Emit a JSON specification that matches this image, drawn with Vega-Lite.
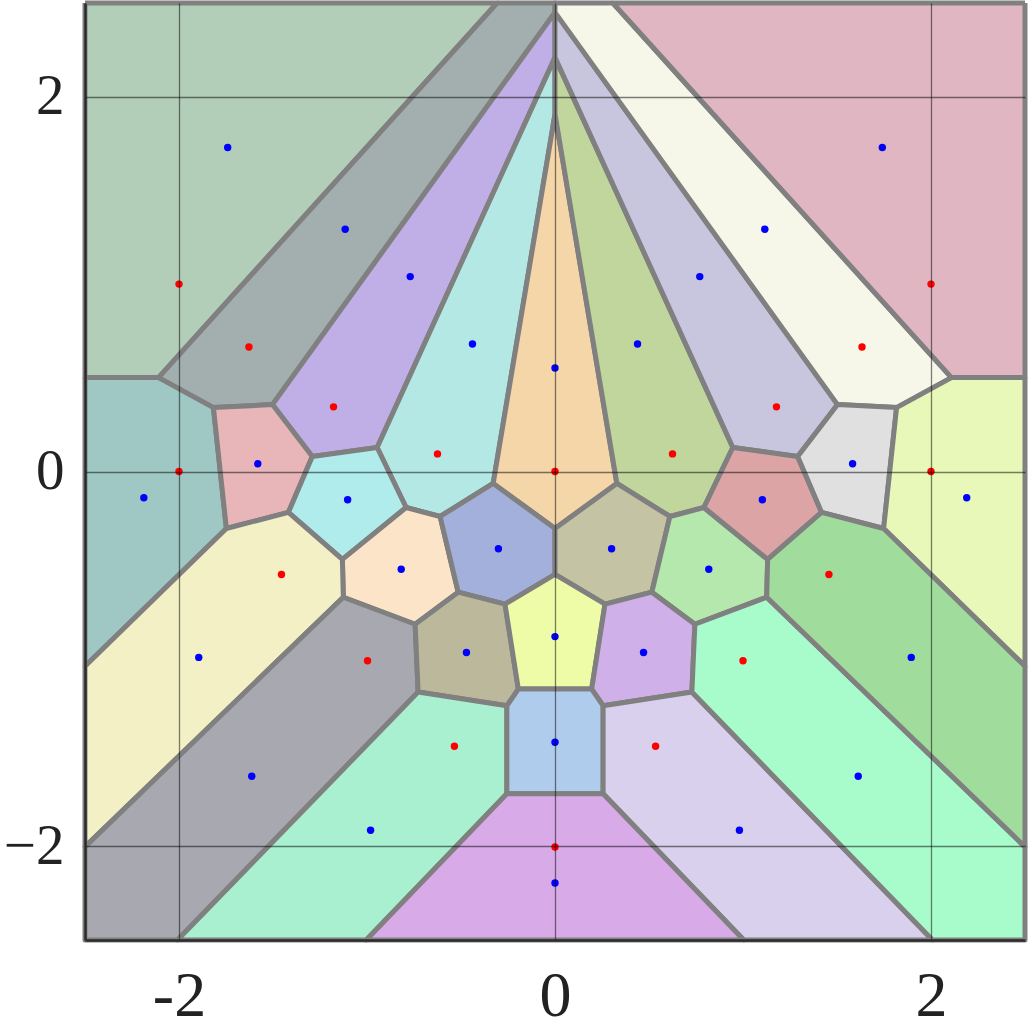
{
  "$schema": "https://vega.github.io/schema/vega-lite/v6.json",
  "width": 940,
  "height": 937,
  "autosize": {"type": "none"},
  "padding": {"left": 85, "top": 3, "right": 3, "bottom": 91},
  "background": "white",
  "config": {"view": {"stroke": null}},
  "datasets": {
    "cells": [
      {"c":"c1","i":0,"x":-2.5,"y":2.5},{"c":"c1","i":1,"x":-0.308,"y":2.5},{"c":"c1","i":2,"x":-2.109,"y":0.501},{"c":"c1","i":3,"x":-2.5,"y":0.501},{"c":"c1","i":4,"x":-2.5,"y":2.5},
      {"c":"c2","i":0,"x":-0.308,"y":2.5},{"c":"c2","i":1,"x":0,"y":2.5},{"c":"c2","i":2,"x":0,"y":2.45},{"c":"c2","i":3,"x":-1.503,"y":0.357},{"c":"c2","i":4,"x":-1.817,"y":0.341},{"c":"c2","i":5,"x":-2.109,"y":0.501},{"c":"c2","i":6,"x":-0.308,"y":2.5},
      {"c":"c3","i":0,"x":0,"y":2.45},{"c":"c3","i":1,"x":0,"y":2.21},{"c":"c3","i":2,"x":-0.946,"y":0.128},{"c":"c3","i":3,"x":-1.291,"y":0.08},{"c":"c3","i":4,"x":-1.503,"y":0.357},{"c":"c3","i":5,"x":0,"y":2.45},
      {"c":"c4","i":0,"x":0,"y":2.21},{"c":"c4","i":1,"x":0,"y":1.907},{"c":"c4","i":2,"x":-0.329,"y":-0.064},{"c":"c4","i":3,"x":-0.611,"y":-0.24},{"c":"c4","i":4,"x":-0.792,"y":-0.192},{"c":"c4","i":5,"x":-0.946,"y":0.128},{"c":"c4","i":6,"x":0,"y":2.21},
      {"c":"c5","i":0,"x":0,"y":1.907},{"c":"c5","i":1,"x":0.329,"y":-0.064},{"c":"c5","i":2,"x":0,"y":-0.304},{"c":"c5","i":3,"x":-0.329,"y":-0.064},{"c":"c5","i":4,"x":0,"y":1.907},
      {"c":"c6","i":0,"x":0,"y":2.21},{"c":"c6","i":1,"x":0,"y":1.907},{"c":"c6","i":2,"x":0.329,"y":-0.064},{"c":"c6","i":3,"x":0.611,"y":-0.24},{"c":"c6","i":4,"x":0.792,"y":-0.192},{"c":"c6","i":5,"x":0.946,"y":0.128},{"c":"c6","i":6,"x":0,"y":2.21},
      {"c":"c7","i":0,"x":0,"y":2.45},{"c":"c7","i":1,"x":0,"y":2.21},{"c":"c7","i":2,"x":0.946,"y":0.128},{"c":"c7","i":3,"x":1.291,"y":0.08},{"c":"c7","i":4,"x":1.503,"y":0.357},{"c":"c7","i":5,"x":0,"y":2.45},
      {"c":"c8","i":0,"x":0.308,"y":2.5},{"c":"c8","i":1,"x":0,"y":2.5},{"c":"c8","i":2,"x":0,"y":2.45},{"c":"c8","i":3,"x":1.503,"y":0.357},{"c":"c8","i":4,"x":1.817,"y":0.341},{"c":"c8","i":5,"x":2.109,"y":0.501},{"c":"c8","i":6,"x":0.308,"y":2.5},
      {"c":"c9","i":0,"x":2.5,"y":2.5},{"c":"c9","i":1,"x":0.308,"y":2.5},{"c":"c9","i":2,"x":2.109,"y":0.501},{"c":"c9","i":3,"x":2.5,"y":0.501},{"c":"c9","i":4,"x":2.5,"y":2.5},
      {"c":"c10","i":0,"x":-2.5,"y":0.501},{"c":"c10","i":1,"x":-2.109,"y":0.501},{"c":"c10","i":2,"x":-1.817,"y":0.341},{"c":"c10","i":3,"x":-1.748,"y":-0.304},{"c":"c10","i":4,"x":-2.5,"y":-1.039},{"c":"c10","i":5,"x":-2.5,"y":0.501},
      {"c":"c11","i":0,"x":-1.817,"y":0.341},{"c":"c11","i":1,"x":-1.503,"y":0.357},{"c":"c11","i":2,"x":-1.291,"y":0.08},{"c":"c11","i":3,"x":-1.418,"y":-0.218},{"c":"c11","i":4,"x":-1.748,"y":-0.304},{"c":"c11","i":5,"x":-1.817,"y":0.341},
      {"c":"c12","i":0,"x":-1.291,"y":0.08},{"c":"c12","i":1,"x":-0.946,"y":0.128},{"c":"c12","i":2,"x":-0.792,"y":-0.192},{"c":"c12","i":3,"x":-1.131,"y":-0.469},{"c":"c12","i":4,"x":-1.418,"y":-0.218},{"c":"c12","i":5,"x":-1.291,"y":0.08},
      {"c":"c13","i":0,"x":-0.792,"y":-0.192},{"c":"c13","i":1,"x":-0.611,"y":-0.24},{"c":"c13","i":2,"x":-0.515,"y":-0.644},{"c":"c13","i":3,"x":-0.744,"y":-0.815},{"c":"c13","i":4,"x":-1.126,"y":-0.671},{"c":"c13","i":5,"x":-1.131,"y":-0.469},{"c":"c13","i":6,"x":-0.792,"y":-0.192},
      {"c":"c14","i":0,"x":-0.329,"y":-0.064},{"c":"c14","i":1,"x":0,"y":-0.304},{"c":"c14","i":2,"x":0,"y":-0.549},{"c":"c14","i":3,"x":-0.266,"y":-0.708},{"c":"c14","i":4,"x":-0.515,"y":-0.644},{"c":"c14","i":5,"x":-0.611,"y":-0.24},{"c":"c14","i":6,"x":-0.329,"y":-0.064},
      {"c":"c15","i":0,"x":0.329,"y":-0.064},{"c":"c15","i":1,"x":0,"y":-0.304},{"c":"c15","i":2,"x":0,"y":-0.549},{"c":"c15","i":3,"x":0.266,"y":-0.708},{"c":"c15","i":4,"x":0.515,"y":-0.644},{"c":"c15","i":5,"x":0.611,"y":-0.24},{"c":"c15","i":6,"x":0.329,"y":-0.064},
      {"c":"c16","i":0,"x":0.792,"y":-0.192},{"c":"c16","i":1,"x":0.611,"y":-0.24},{"c":"c16","i":2,"x":0.515,"y":-0.644},{"c":"c16","i":3,"x":0.744,"y":-0.815},{"c":"c16","i":4,"x":1.126,"y":-0.671},{"c":"c16","i":5,"x":1.131,"y":-0.469},{"c":"c16","i":6,"x":0.792,"y":-0.192},
      {"c":"c17","i":0,"x":1.291,"y":0.08},{"c":"c17","i":1,"x":0.946,"y":0.128},{"c":"c17","i":2,"x":0.792,"y":-0.192},{"c":"c17","i":3,"x":1.131,"y":-0.469},{"c":"c17","i":4,"x":1.418,"y":-0.218},{"c":"c17","i":5,"x":1.291,"y":0.08},
      {"c":"c18","i":0,"x":1.817,"y":0.341},{"c":"c18","i":1,"x":1.503,"y":0.357},{"c":"c18","i":2,"x":1.291,"y":0.08},{"c":"c18","i":3,"x":1.418,"y":-0.218},{"c":"c18","i":4,"x":1.748,"y":-0.304},{"c":"c18","i":5,"x":1.817,"y":0.341},
      {"c":"c19","i":0,"x":2.5,"y":0.501},{"c":"c19","i":1,"x":2.109,"y":0.501},{"c":"c19","i":2,"x":1.817,"y":0.341},{"c":"c19","i":3,"x":1.748,"y":-0.304},{"c":"c19","i":4,"x":2.5,"y":-1.039},{"c":"c19","i":5,"x":2.5,"y":0.501},
      {"c":"c20","i":0,"x":-2.5,"y":-1.039},{"c":"c20","i":1,"x":-1.748,"y":-0.304},{"c":"c20","i":2,"x":-1.418,"y":-0.218},{"c":"c20","i":3,"x":-1.131,"y":-0.469},{"c":"c20","i":4,"x":-1.126,"y":-0.671},{"c":"c20","i":5,"x":-2.5,"y":-2.003},{"c":"c20","i":6,"x":-2.5,"y":-1.039},
      {"c":"c21","i":0,"x":-1.126,"y":-0.671},{"c":"c21","i":1,"x":-0.744,"y":-0.815},{"c":"c21","i":2,"x":-0.728,"y":-1.177},{"c":"c21","i":3,"x":-2.008,"y":-2.5},{"c":"c21","i":4,"x":-2.5,"y":-2.5},{"c":"c21","i":5,"x":-2.5,"y":-2.003},{"c":"c21","i":6,"x":-1.126,"y":-0.671},
      {"c":"c22","i":0,"x":-0.744,"y":-0.815},{"c":"c22","i":1,"x":-0.515,"y":-0.644},{"c":"c22","i":2,"x":-0.266,"y":-0.708},{"c":"c22","i":3,"x":-0.195,"y":-1.161},{"c":"c22","i":4,"x":-0.256,"y":-1.25},{"c":"c22","i":5,"x":-0.728,"y":-1.177},{"c":"c22","i":6,"x":-0.744,"y":-0.815},
      {"c":"c23","i":0,"x":0,"y":-0.549},{"c":"c23","i":1,"x":0.266,"y":-0.708},{"c":"c23","i":2,"x":0.195,"y":-1.161},{"c":"c23","i":3,"x":-0.195,"y":-1.161},{"c":"c23","i":4,"x":-0.266,"y":-0.708},{"c":"c23","i":5,"x":0,"y":-0.549},
      {"c":"c24","i":0,"x":0.744,"y":-0.815},{"c":"c24","i":1,"x":0.515,"y":-0.644},{"c":"c24","i":2,"x":0.266,"y":-0.708},{"c":"c24","i":3,"x":0.195,"y":-1.161},{"c":"c24","i":4,"x":0.256,"y":-1.25},{"c":"c24","i":5,"x":0.728,"y":-1.177},{"c":"c24","i":6,"x":0.744,"y":-0.815},
      {"c":"c25","i":0,"x":-0.728,"y":-1.177},{"c":"c25","i":1,"x":-0.256,"y":-1.25},{"c":"c25","i":2,"x":-0.256,"y":-1.72},{"c":"c25","i":3,"x":-1.004,"y":-2.5},{"c":"c25","i":4,"x":-2.008,"y":-2.5},{"c":"c25","i":5,"x":-0.728,"y":-1.177},
      {"c":"c26","i":0,"x":-0.195,"y":-1.161},{"c":"c26","i":1,"x":0.195,"y":-1.161},{"c":"c26","i":2,"x":0.256,"y":-1.25},{"c":"c26","i":3,"x":0.256,"y":-1.72},{"c":"c26","i":4,"x":-0.256,"y":-1.72},{"c":"c26","i":5,"x":-0.256,"y":-1.25},{"c":"c26","i":6,"x":-0.195,"y":-1.161},
      {"c":"c27","i":0,"x":0.728,"y":-1.177},{"c":"c27","i":1,"x":0.256,"y":-1.25},{"c":"c27","i":2,"x":0.256,"y":-1.72},{"c":"c27","i":3,"x":1.004,"y":-2.5},{"c":"c27","i":4,"x":2.008,"y":-2.5},{"c":"c27","i":5,"x":0.728,"y":-1.177},
      {"c":"c28","i":0,"x":1.126,"y":-0.671},{"c":"c28","i":1,"x":0.744,"y":-0.815},{"c":"c28","i":2,"x":0.728,"y":-1.177},{"c":"c28","i":3,"x":2.008,"y":-2.5},{"c":"c28","i":4,"x":2.5,"y":-2.5},{"c":"c28","i":5,"x":2.5,"y":-2.003},{"c":"c28","i":6,"x":1.126,"y":-0.671},
      {"c":"c29","i":0,"x":2.5,"y":-1.039},{"c":"c29","i":1,"x":1.748,"y":-0.304},{"c":"c29","i":2,"x":1.418,"y":-0.218},{"c":"c29","i":3,"x":1.131,"y":-0.469},{"c":"c29","i":4,"x":1.126,"y":-0.671},{"c":"c29","i":5,"x":2.5,"y":-2.003},{"c":"c29","i":6,"x":2.5,"y":-1.039},
      {"c":"c30","i":0,"x":-0.256,"y":-1.72},{"c":"c30","i":1,"x":0.256,"y":-1.72},{"c":"c30","i":2,"x":1.004,"y":-2.5},{"c":"c30","i":3,"x":-1.004,"y":-2.5},{"c":"c30","i":4,"x":-0.256,"y":-1.72}
    ],
    "pts": [
      {"k":"blue","x":-1.741,"y":1.729},{"k":"blue","x":-1.116,"y":1.293},{"k":"blue","x":-0.77,"y":1.04},{"k":"blue","x":-0.439,"y":0.68},{"k":"blue","x":0,"y":0.552},{"k":"blue","x":0.439,"y":0.68},{"k":"blue","x":0.77,"y":1.04},{"k":"blue","x":1.116,"y":1.293},{"k":"blue","x":1.741,"y":1.729},
      {"k":"blue","x":-2.187,"y":-0.14},{"k":"blue","x":-1.581,"y":0.041},{"k":"blue","x":-1.103,"y":-0.151},{"k":"blue","x":-0.818,"y":-0.522},{"k":"blue","x":-0.301,"y":-0.412},{"k":"blue","x":0,"y":-0.881},{"k":"blue","x":0.301,"y":-0.412},{"k":"blue","x":0.818,"y":-0.522},{"k":"blue","x":1.103,"y":-0.151},{"k":"blue","x":1.583,"y":0.041},{"k":"blue","x":2.19,"y":-0.14},
      {"k":"blue","x":-1.895,"y":-0.992},{"k":"blue","x":-0.471,"y":-0.966},{"k":"blue","x":0.471,"y":-0.966},{"k":"blue","x":1.895,"y":-0.992},{"k":"blue","x":-1.613,"y":-1.626},{"k":"blue","x":-0.981,"y":-1.914},{"k":"blue","x":0,"y":-1.445},{"k":"blue","x":0.981,"y":-1.914},{"k":"blue","x":1.613,"y":-1.626},{"k":"blue","x":0,"y":-2.196},
      {"k":"red","x":-2,"y":1},{"k":"red","x":-1.628,"y":0.664},{"k":"red","x":-1.178,"y":0.345},{"k":"red","x":-0.625,"y":0.094},{"k":"red","x":0,"y":0},{"k":"red","x":0.625,"y":0.094},{"k":"red","x":1.178,"y":0.345},{"k":"red","x":1.633,"y":0.664},{"k":"red","x":2,"y":1},
      {"k":"red","x":-2,"y":0},{"k":"red","x":-1.455,"y":-0.55},{"k":"red","x":-0.997,"y":-1.01},{"k":"red","x":-0.535,"y":-1.466},{"k":"red","x":0,"y":-2.004},{"k":"red","x":0.535,"y":-1.466},{"k":"red","x":1,"y":-1.01},{"k":"red","x":1.457,"y":-0.55},{"k":"red","x":2,"y":0}
    ]
  },
  "encoding": {
    "x": {"field": "x", "type": "quantitative", "scale": {"domain": [-2.5, 2.5], "nice": false, "zero": false},
      "axis": {"values": [-2, 0, 2], "title": null, "grid": true, "gridColor": "#000000", "gridOpacity": 0.5, "gridWidth": 1.3,
        "domain": true, "domainColor": "#2b2b2b", "domainWidth": 2.5, "ticks": false,
        "labelFont": "Times New Roman", "labelFontSize": 64, "labelColor": "#222222", "labelPadding": 24,
        "labelExpr": "replace(datum.label, '\u2212', '-')", "zindex": 1}},
    "y": {"field": "y", "type": "quantitative", "scale": {"domain": [-2.5, 2.5], "nice": false, "zero": false},
      "axis": {"values": [-2, 0, 2], "title": null, "grid": true, "gridColor": "#000000", "gridOpacity": 0.5, "gridWidth": 1.3,
        "domain": true, "domainColor": "#2b2b2b", "domainWidth": 2.5, "ticks": false,
        "labelFont": "Times New Roman", "labelFontSize": 57, "labelColor": "#222222", "labelPadding": 21, "zindex": 1}}
  },
  "layer": [
    {
      "data": {"name": "cells"},
      "mark": {"type": "line", "stroke": "#808080", "strokeWidth": 5, "strokeJoin": "round", "fillOpacity": 1},
      "encoding": {
        "order": {"field": "i", "type": "quantitative"},
        "detail": {"field": "c", "type": "nominal"},
        "fill": {"field": "c", "type": "nominal", "legend": null,
          "scale": {"domain": ["c1","c2","c3","c4","c5","c6","c7","c8","c9","c10","c11","c12","c13","c14","c15","c16","c17","c18","c19","c20","c21","c22","c23","c24","c25","c26","c27","c28","c29","c30"],
            "range": ["#b2cdb8","#a3afaf","#c0aee6","#b4e8e4","#f4d6a8","#c0d69c","#c8c6de","#f6f7e8","#e0b6c2","#9fc8c4","#e8b6b8","#b0ecec","#fce4c8","#a4b0dc","#c4c4a4","#b4e8ac","#dca4a4","#e0e0e0","#e8f8b8","#f2f0c4","#a8a8b0","#bcb89c","#eefca8","#d0b0e8","#a8f0d0","#b0ccec","#d8d0ec","#a8fccc","#a0dc9c","#d8aae8"]}}
      }
    },
    {
      "data": {"name": "pts"},
      "mark": {"type": "point", "filled": true, "size": 55, "opacity": 1, "strokeWidth": 0},
      "encoding": {
        "color": {"field": "k", "type": "nominal", "legend": null, "scale": {"domain": ["blue", "red"], "range": ["#0000ff", "#ff0000"]}}
      }
    }
  ]
}
